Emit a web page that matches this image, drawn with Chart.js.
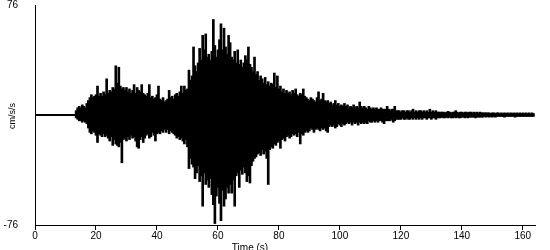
<!DOCTYPE html>
<html>
<head>
<meta charset="utf-8">
<script src="https://cdn.jsdelivr.net/npm/chart.js@4/dist/chart.umd.min.js"></script>
<style>
  html, body { margin: 0; padding: 0; background: #fff; }
  #wrap { width: 550px; height: 250px; }
</style>
</head>
<body>
<div id="wrap"><canvas id="chart1"></canvas></div>
<script>
// record starts moving at 13 s, peaks read every 0.5 s
const startTime = 13;
const step = 0.5;

const peakHigh = [
  0.5, 3, 5, 6, 5, 7, 6, 5, 8, 10, 12, 14, 12, 13, 14, 20, 13, 15, 13, 16,
  14, 25, 15, 17, 16, 19, 18, 34, 22, 33, 20, 18, 19, 17, 19, 16, 18, 15, 17, 21,
  15, 19, 17, 16, 21, 15, 14, 13, 15, 21, 12, 13, 11, 12, 14, 20, 11, 10, 12, 9,
  10, 11, 17, 12, 13, 11, 14, 15, 13, 16, 20, 15, 20, 17, 18, 31, 24, 27, 47, 34,
  30, 36, 46, 38, 55, 45, 56, 40, 42, 38, 44, 66, 48, 40, 45, 52, 63, 45, 60, 47,
  42, 55, 50, 40, 38, 44, 36, 45, 35, 38, 33, 36, 41, 38, 47, 35, 33, 30, 40, 28,
  30, 24, 27, 25, 22, 26, 21, 23, 20, 22, 21, 29, 19, 27, 18, 20, 16, 18, 15, 17,
  15, 16, 14, 17, 15, 18, 14, 13, 15, 14, 18, 13, 12, 11, 10, 12, 11, 10, 9, 12,
  16, 10, 11, 15, 10, 9, 10, 8, 9, 7, 8, 10, 7, 8, 6, 7, 6, 8, 6, 7,
  5, 6, 5, 7, 5, 6, 5, 9, 6, 5, 6, 5, 4, 6, 5, 4, 5, 4, 5, 4,
  4, 5, 4, 4, 4, 6, 4, 3, 4, 4, 6, 3, 3, 3, 2, 3, 3, 2, 3, 3,
  2, 3, 4, 2, 3, 2, 3, 3, 2, 3, 2, 3, 2, 4, 2, 3, 2, 3, 2, 2,
  2, 2, 2, 1.5, 2, 2.5, 2, 1.5, 2, 2, 3, 2, 1.5, 2, 2, 1.5, 2, 2, 1.5, 2,
  2, 1.5, 2, 1.5, 2, 1.5, 2, 1.5, 1.5, 1.5, 1.5, 1.5, 1.5, 1, 1.5, 1.5, 1, 1.5, 1.5, 1,
  1.5, 1, 1.5, 1, 1.5, 1, 1.5, 1, 1.5, 1, 1.5, 1, 1.5, 1, 1.5, 1, 1.5, 1, 1.5, 1,
  1.5, 1
];

const peakLow = [
  -0.5, -2, -3, -4, -4, -5, -4, -5, -6, -9, -12, -13, -11, -12, -14, -19, -13, -14, -15, -13,
  -15, -14, -16, -18, -15, -21, -17, -20, -21, -22, -19, -33, -17, -16, -18, -15, -17, -14, -16, -15,
  -18, -22, -23, -17, -15, -19, -16, -14, -13, -16, -15, -12, -14, -18, -13, -12, -13, -11, -12, -10,
  -12, -10, -13, -11, -12, -13, -14, -16, -15, -17, -16, -18, -20, -17, -22, -37, -30, -34, -36, -44,
  -40, -35, -46, -42, -63, -40, -48, -45, -50, -44, -55, -62, -75, -56, -50, -61, -73, -52, -63, -58,
  -50, -54, -48, -54, -45, -63, -42, -40, -50, -38, -41, -36, -40, -46, -42, -47, -35, -32, -30, -29,
  -27, -26, -28, -24, -27, -25, -30, -48, -24, -22, -23, -20, -21, -19, -18, -23, -17, -16, -18, -15,
  -14, -16, -15, -13, -14, -13, -15, -12, -20, -13, -14, -12, -11, -12, -11, -9, -10, -12, -10, -9,
  -10, -11, -9, -10, -9, -11, -12, -8, -7, -8, -7, -9, -8, -6, -7, -8, -6, -7, -6, -5,
  -6, -5, -7, -5, -6, -5, -7, -5, -6, -5, -6, -5, -6, -4, -5, -5, -4, -5, -4, -5,
  -4, -4, -5, -6, -4, -4, -4, -4, -3, -5, -4, -3, -3, -3, -3, -2, -3, -3, -2, -3,
  -3, -2, -3, -2, -3, -2, -3, -2, -3, -2, -2, -3, -2, -2, -3, -2, -2, -3, -2, -2,
  -2, -1.5, -2, -2, -1.5, -2, -1.5, -2, -2, -1.5, -2, -1.5, -2, -2, -1.5, -1.5, -2, -1.5, -2, -1.5,
  -1.5, -1.5, -1.5, -2, -1.5, -1.5, -1.5, -1.5, -1.5, -1, -1.5, -1, -1.5, -1, -1.5, -1, -1.5, -1, -1, -1,
  -1, -1, -1.5, -1, -1, -1, -1, -1, -1, -1.5, -1, -1, -1, -1, -1, -1, -1, -1, -1, -1,
  -1, -1
];

// flat trace before the first arrival
const quietTimes = [0, 13];
const quietValues = [0, 0];

const xTicks = [0, 20, 40, 60, 80, 100, 120, 140, 160];
const yTicks = [-76, 76];

// one floating bar per 0.5 s step, from the low peak to the high one
const swing = peakHigh.map((hi, i) => ({ x: startTime + i * step, y: [peakLow[i], hi] }));
const quiet = quietTimes.map((t, i) => ({ x: t, y: quietValues[i] }));

const font = { family: '"Liberation Sans", Arial, sans-serif', size: 10 };

const axisTitles = {
    id: 'axisTitles',
    afterDraw(chart) {
        const ctx = chart.ctx;
        ctx.save();
        ctx.fillStyle = '#000';
        ctx.textAlign = 'center';
        ctx.font = '10px "Liberation Sans", Arial, sans-serif';
        ctx.textBaseline = 'alphabetic';
        ctx.fillText('Time (s)', 250, 251);
        ctx.font = '9px "Liberation Sans", Arial, sans-serif';
        ctx.textBaseline = 'middle';
        ctx.translate(13, 116);
        ctx.rotate(-Math.PI / 2);
        ctx.fillText('cm/s/s', 0, 0);
        ctx.restore();
    }
};

new Chart(document.getElementById('chart1'), {
    type: 'bar',
    data: {
        datasets: [{
            type: 'line',
            data: quiet,
            borderColor: '#000',
            borderWidth: 2,
            pointRadius: 0
        }, {
            data: swing,
            backgroundColor: '#000',
            borderWidth: 0,
            barThickness: 2
        }]
    },
    options: {
        responsive: true,
        maintainAspectRatio: false,
        animation: false,
        layout: { padding: { top: 5, right: 15, left: 0, bottom: 0 } },
        plugins: {
            legend: { display: false },
            tooltip: { enabled: false }
        },
        scales: {
            x: {
                type: 'linear',
                min: 0,
                max: 164,
                offset: false,
                afterBuildTicks: s => { s.ticks = xTicks.map(v => ({ value: v })); },
                afterFit: s => { s.height = 25; },
                border: { display: true, color: '#000', width: 1 },
                grid: {
                    display: true,
                    offset: false,
                    drawOnChartArea: false,
                    drawTicks: true,
                    tickLength: 5,
                    color: '#000'
                },
                ticks: {
                    color: '#000',
                    font: font,
                    padding: 0,
                    maxRotation: 0,
                    autoSkip: false
                }
            },
            y: {
                min: -76,
                max: 76,
                afterBuildTicks: s => { s.ticks = yTicks.map(v => ({ value: v })); },
                afterFit: s => {
                    s.width = 35;
                    s.paddingTop = 0;
                    s.paddingBottom = 0;
                },
                border: { display: true, color: '#000', width: 1 },
                grid: { display: false, drawTicks: false },
                ticks: {
                    color: '#000',
                    font: font,
                    padding: 17,
                    crossAlign: 'near'
                }
            }
        }
    },
    plugins: [axisTitles]
});
</script>
</body>
</html>
